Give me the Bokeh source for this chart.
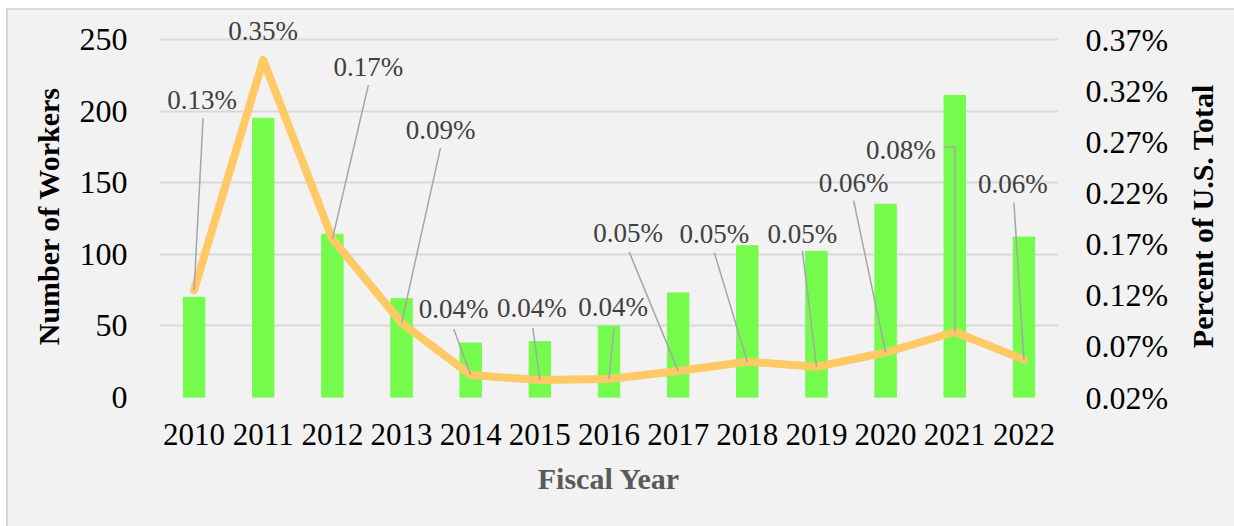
import math
from bokeh.plotting import figure
from bokeh.layouts import row
from bokeh.models import (ColumnDataSource, Range1d, LinearAxis, FixedTicker,
                          PrintfTickFormatter)
from bokeh.core.properties import value
from bokeh.embed import file_html
from bokeh.resources import INLINE

# ---- data ----
years = ["2010", "2011", "2012", "2013", "2014", "2015", "2016",
         "2017", "2018", "2019", "2020", "2021", "2022"]
workers = [70, 195, 114, 69, 38, 39, 50, 73, 106, 102, 135, 211, 112]
pct_total = [0.125, 0.350, 0.175, 0.093, 0.042, 0.037, 0.038,
             0.046, 0.055, 0.050, 0.064, 0.084, 0.057]
pct_labels = ["0.13%", "0.35%", "0.17%", "0.09%", "0.04%", "0.04%", "0.04%",
              "0.05%", "0.05%", "0.05%", "0.06%", "0.08%", "0.06%"]
left_ticks = [0, 50, 100, 150, 200, 250]
right_ticks = [0.02, 0.07, 0.12, 0.17, 0.22, 0.27, 0.32, 0.37]
y_title = "Number of Workers"
y2_title = "Percent of U.S. Total"
x_title = "Fiscal Year"

# ---- style: label offsets in screen px relative to each point (down = +) ----
lab_dx = [8, 0, 36, 39, -17, -8, 4, -50, -33, -14, -32, -54, -11]
lab_dy = [-190, -29, -172, -193, -66, -72, -72, -138, -128, -133, -169, -182, -176]
# leader line end points (screen px offsets); None = no leader
lead = [[(9, -172)], None, [(36, -154)], [(39, -175)], [(-17, -46)],
        [(-7, -52)], [(5, -52)], [(-49, -119)], [(-33, -109)], [(-14, -116)],
        [(-32, -152)], [(0, -185), (-11, -185)], [(-10, -157)]]

FONT = "Liberation Serif"
BG = "#f2f2f2"
H = 516            # height of the boxed area
FW = 899           # frame width (px)
AX_H = 358         # px between 0 and 250 on the left axis
EXTRA_TOP = 24     # frame extends this far above the 250 gridline (room for labels)
FH = AX_H + EXTRA_TOP
TOP, BOTTOM = 5, H - 5 - FH
LW, RW = 62, 54    # side title panels
P_LEFT, P_RIGHT = 89, 122
TITLE_CY = 245     # vertical position of the rotated titles in the side panels

n = len(years)
xs = list(range(n))
y_end = 250 * FH / AX_H
pct_end = 0.02 + 0.35 * FH / AX_H

p = figure(width=P_LEFT + FW + P_RIGHT, height=H, output_backend="svg",
           toolbar_location=None,
           x_range=Range1d(-0.5, n - 0.5), y_range=Range1d(0, y_end),
           min_border_left=P_LEFT, min_border_right=P_RIGHT, min_border_top=TOP,
           min_border_bottom=BOTTOM)
p.background_fill_color = BG
p.border_fill_color = BG
p.outline_line_color = None
p.extra_y_ranges = {"pct": Range1d(0.02, pct_end)}

# grid
p.xgrid.grid_line_color = None
p.ygrid.grid_line_color = "#d9d9d9"
p.ygrid.grid_line_width = 2
p.ygrid.ticker = FixedTicker(ticks=left_ticks)

# bars
src = ColumnDataSource(dict(x=xs, w=workers))
p.vbar(x="x", top="w", width=0.31, source=src, color="#75fb4c")

# line
lsrc = ColumnDataSource(dict(x=xs, v=pct_total))
p.line(x="x", y="v", source=lsrc, y_range_name="pct", line_color="#ffc966",
       line_width=8, line_join="round", line_cap="round")

# leader lines
xpp = n / FW
ypp = 0.35 / AX_H
mx, my = [], []
for i in range(n):
    if lead[i] is None:
        continue
    lx = [xs[i]] + [xs[i] + dx * xpp for dx, dy in lead[i]]
    ly = [pct_total[i]] + [pct_total[i] - dy * ypp for dx, dy in lead[i]]
    mx.append(lx)
    my.append(ly)
p.multi_line(xs=mx, ys=my, y_range_name="pct", line_color="#a6a6a6", line_width=1.5)

# data labels
tsrc = ColumnDataSource(dict(x=xs, y=pct_total, t=pct_labels, dx=lab_dx, dy=lab_dy))
p.text(x="x", y="y", text="t", x_offset="dx", y_offset="dy", source=tsrc,
       y_range_name="pct", text_align="center", text_baseline="middle",
       text_font=value(FONT), text_font_size="27px", text_color="#404040")

# axes styling
def style_axis(ax):
    ax.axis_line_color = None
    ax.major_tick_line_color = None
    ax.minor_tick_line_color = None
    ax.major_label_text_font = FONT
    ax.major_label_text_font_size = "32px"
    ax.major_label_text_color = "#000000"
    ax.axis_label_text_font = FONT
    ax.axis_label_text_font_size = "30px"
    ax.axis_label_text_font_style = "bold"

xa = p.xaxis[0]
style_axis(xa)
xa.major_label_text_font_size = "31px"
xa.ticker = FixedTicker(ticks=xs)
xa.major_label_overrides = {i: y for i, y in enumerate(years)}
xa.axis_label = x_title
xa.axis_label_text_color = "#595959"
xa.major_label_standoff = 20
xa.axis_label_standoff = 14

ya = p.yaxis[0]
style_axis(ya)
ya.ticker = FixedTicker(ticks=left_ticks)
ya.major_label_standoff = 26

ra = LinearAxis(y_range_name="pct", ticker=FixedTicker(ticks=right_ticks),
                formatter=PrintfTickFormatter(format="%.2f%%"))
style_axis(ra)
ra.major_label_standoff = 21
p.add_layout(ra, "right")


# side panels holding the rotated axis titles (both read bottom-to-top)
def side_panel(width, cx, txt):
    f = figure(width=width, height=H, output_backend="svg", toolbar_location=None,
               x_range=Range1d(0, width), y_range=Range1d(0, H),
               min_border=0, x_axis_type=None, y_axis_type=None)
    f.background_fill_color = BG
    f.border_fill_color = BG
    f.outline_line_color = None
    f.grid.visible = False
    f.text(x=[cx], y=[TITLE_CY], text=[txt], angle=math.pi / 2,
           text_align="center", text_baseline="middle",
           text_font=value(FONT), text_font_size="30px",
           text_font_style="bold", text_color="#000000")
    return f


fl = side_panel(LW, 39.5, y_title)
fr = side_panel(RW, 22, y2_title)

lay = row(fl, p, fr)
lay.margin = (8, 0, 0, 6)
lay.styles = {"border-left": "2px solid #d9d9d9", "border-top": "2px solid #d9d9d9",
              "background-color": BG}

open("out.html", "w").write(file_html(lay, INLINE))
